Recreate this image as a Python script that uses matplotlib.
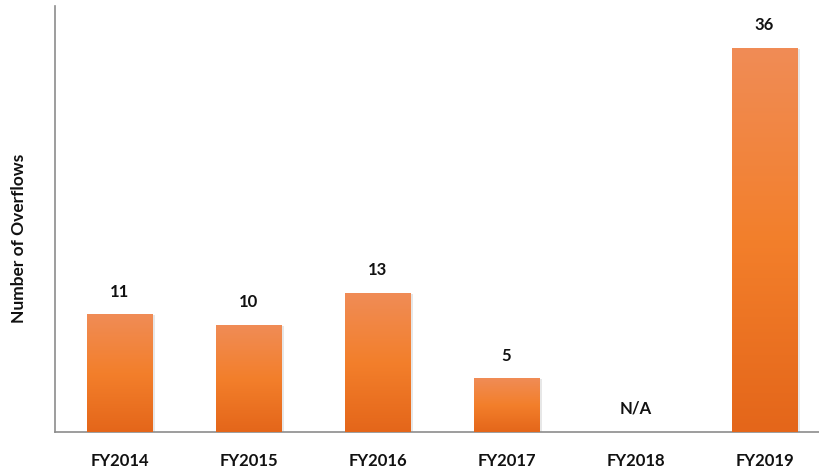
import matplotlib
matplotlib.use("Agg")
import matplotlib.pyplot as plt
import numpy as np
from matplotlib.colors import LinearSegmentedColormap

categories = ["FY2014", "FY2015", "FY2016", "FY2017", "FY2018", "FY2019"]
values = [11, 10, 13, 5, 0, 36]
labels = ["11", "10", "13", "5", "N/A", "36"]

plt.rcParams['font.family'] = ['Lato', 'DejaVu Sans']

fig = plt.figure(figsize=(8.2, 4.72), dpi=100)
ax = fig.add_axes([0.067, 0.0847, 0.933, 0.9023])

x = np.arange(len(categories))
width = 0.505
bars = ax.bar(x, values, width=width, color="#F37F2B", zorder=2)

cmap = LinearSegmentedColormap.from_list("og", ["#E4661A", "#F37F2B", "#F08C56"])
grad = np.linspace(0, 1, 256).reshape(-1, 1)
for b in bars:
    h = b.get_height()
    if h <= 0:
        continue
    x0 = b.get_x()
    w = b.get_width()
    # soft shadow
    ax.bar(x0 + w / 2 + 0.012, h, width=w + 0.02, bottom=0, color="#bbbbbb", alpha=0.35, zorder=1)
    ax.imshow(grad, extent=[x0, x0 + w, 0, h], origin="lower", aspect="auto",
              cmap=cmap, zorder=3)

ax.set_xlim(-0.5, 5.43)
ax.set_ylim(0, 40)

for xi, v, lab in zip(x, values, labels):
    ax.annotate(lab, (xi, v), xytext=(0, 11), textcoords="offset points",
                ha="center", va="bottom", fontsize=12, fontweight="bold", color="#111111")

ax.set_xticks(x)
ax.set_xticklabels(categories, fontsize=12, fontweight="bold", color="#111111")
ax.tick_params(axis="x", length=0, pad=15)
ax.set_yticks([])
ax.set_ylabel("Number of Overflows", fontsize=12.5, fontweight="bold", color="#111111")
ax.yaxis.set_label_coords(-0.037, 0.455)

for s in ["top", "right"]:
    ax.spines[s].set_visible(False)
for s in ["left", "bottom"]:
    ax.spines[s].set_color("#8c8c8c")
    ax.spines[s].set_linewidth(1.2)

fig.savefig("out.png", dpi=100)
